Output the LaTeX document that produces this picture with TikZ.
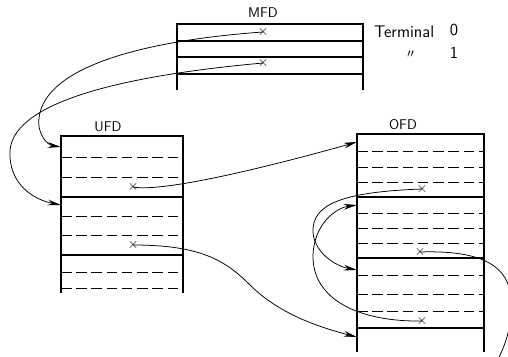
\documentclass[tikz,border=0pt]{standalone}
\usepackage{tikz}
\usetikzlibrary{arrows.meta,positioning}
\tikzset{
  fdline/.style={line width=0.9pt},
  fddash/.style={line width=0.7pt,dash pattern=on 9pt off 4pt},
  link/.style={line width=0.65pt,-{Stealth[length=4mm,width=1.7mm]}},
  xmark/.style={inner sep=0pt,font=\large},
  fdlabel/.style={font=\sffamily\large},
  termtext/.style={font=\sffamily\Large},
}

\begin{document}
\begin{tikzpicture}[x=0.03cm,y=-0.03cm]
  \useasboundingbox (0,0) rectangle (508,356);
  \clip (0,0) rectangle (508,356);
  % MFD
  \draw[fdline] (177,90)--(177,24)--(363,24)--(363,90);
  \foreach \y in {41,57,74}
    \draw[fdline] (177,\y)--(363,\y);
  \node[fdlabel] (mfd) at (263,13) {MFD};
  \node[termtext,anchor=west] (term) at (370,32) {Terminal};
  \node[termtext] (t0) at (454,30) {0};
  \node[termtext] (ditto) at (411,57) {$''$};
  \node[termtext] (t1) at (454,53) {1};
  % UFD
  \draw[fdline] (61,293)--(61,136)--(183,136)--(183,293);
  \foreach \y in {197,255}
    \draw[fdline] (61,\y)--(183,\y);
  \foreach \y in {157,177,216,235,272,288}
    \draw[fddash] (61,\y)--(183,\y);
  \node[fdlabel] (ufd) at (108,127) {UFD};
  % OFD
  \draw[fdline] (357,352)--(357,134)--(484,134)--(484,352);
  \foreach \y in {197,258,328}
    \draw[fdline] (357,\y)--(484,\y);
  \foreach \y in {151,167,182,213,228,243,275,294,311}
    \draw[fddash] (357,\y)--(484,\y);
  \node[fdlabel] (ofd) at (403,125) {OFD};
  % entries
  \node[xmark] (m0) at (263,32) {$\times$};
  \node[xmark] (m1) at (263,63) {$\times$};
  \node[xmark] (u0) at (133,187) {$\times$};
  \node[xmark] (u1) at (133,245) {$\times$};
  \node[xmark] (o0) at (422,189) {$\times$};
  \node[xmark] (o1) at (420,252) {$\times$};
  \node[xmark] (o2) at (422,321) {$\times$};
  \coordinate (ut0) at (61,147);
  \coordinate (ut1) at (61,205);
  \coordinate (ot0) at (357,142);
  \coordinate (ot1) at (357,205);
  \coordinate (ot2) at (357,270);
  \coordinate (ot3) at (357,337);
  \coordinate (away) at (495,366);
  % pointers
  \draw[link] (m0.center) .. controls (150,40) and (45,65) .. (39,118)
    .. controls (37,135) and (48,145) .. (ut0);
  \draw[link] (m1.center) .. controls (130,75) and (15,100) .. (10,150)
    .. controls (8,185) and (35,200) .. (ut1);
  \draw[link] (u0.center) .. controls (160,192) and (250,172) .. (ot0);
  \draw[link] (u1.center) .. controls (200,245) and (225,260) .. (250,285)
    .. controls (275,310) and (310,325) .. (ot3);
  \draw[link] (o0.center) .. controls (340,192) and (312,205) .. (313,232)
    .. controls (314,252) and (335,266) .. (ot2);
  \draw[link] (o2.center) .. controls (360,322) and (312,300) .. (313,255)
    .. controls (314,225) and (335,208) .. (ot1);
  \draw[line width=0.65pt] (o1.center) .. controls (480,250) and (510,265) .. (511,300)
    .. controls (512,330) and (505,345) .. (away);
\end{tikzpicture}
\end{document}
